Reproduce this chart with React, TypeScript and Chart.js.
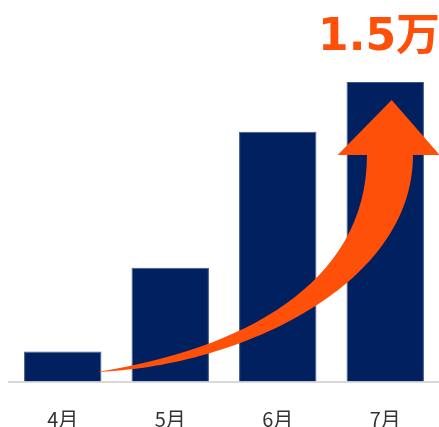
import React, { useEffect, useRef } from "react";
import { Chart, registerables } from "chart.js";

Chart.register(...registerables);

const categories = ["4月", "5月", "6月", "7月"];
const values = [1500, 5700, 12500, 15000];
const headline = "1.5万";

const NAVY = "#002060";
const ORANGE = "#ff500a";

const arrowPlugin = {
  id: "growthArrow",
  afterDatasetsDraw(chart: any) {
    const { ctx, chartArea, scales } = chart;
    const ys = scales.y;
    const cw = (chartArea.right - chartArea.left) / categories.length;
    const X = (k: number) => chartArea.left + k * cw;
    const Y = (v: number) => ys.getPixelForValue(v);
    ctx.save();
    ctx.fillStyle = ORANGE;
    ctx.beginPath();
    ctx.moveTo(X(0.82), Y(480));
    ctx.bezierCurveTo(X(2.149), Y(1580), X(3.33), Y(4830), X(3.33), Y(11340));
    ctx.lineTo(X(3.057), Y(11340));
    ctx.lineTo(X(3.56), Y(14100));
    ctx.lineTo(X(4.007), Y(11340));
    ctx.lineTo(X(3.758), Y(11340));
    ctx.bezierCurveTo(X(3.758), Y(4580), X(2.056), Y(680), X(0.82), Y(480));
    ctx.closePath();
    ctx.fill();
    ctx.restore();
  },
  afterDraw(chart: any) {
    const { ctx, width } = chart;
    ctx.save();
    ctx.fillStyle = ORANGE;
    ctx.font = 'bold 44px "DejaVu Sans", "Noto Sans CJK JP", sans-serif';
    ctx.textAlign = "right";
    ctx.textBaseline = "alphabetic";
    ctx.fillText(headline, width + 1, 50);
    ctx.restore();
  },
};

export default function App() {
  const ref = useRef<HTMLCanvasElement | null>(null);
  useEffect(() => {
    if (!ref.current) return;
    const chart = new Chart(ref.current, {
      type: "bar",
      data: {
        labels: categories,
        datasets: [
          {
            data: values,
            backgroundColor: NAVY,
            borderColor: "#3d5688",
            borderWidth: 1,
            categoryPercentage: 0.72,
            barPercentage: 1,
          },
        ],
      },
      options: {
        animation: false,
        responsive: true,
        maintainAspectRatio: false,
        layout: { padding: { top: 22, left: 9, right: 0, bottom: 0 } },
        plugins: {
          legend: { display: false },
          tooltip: { enabled: false },
        },
        scales: {
          x: {
            grid: { display: false, drawTicks: false },
            border: { display: true, color: "#d9d9d9", width: 2 },
            ticks: {
              color: "#333333",
              padding: 26,
              font: { family: '"Noto Sans CJK JP", sans-serif', size: 20 },
            },
            afterFit: (scale: any) => {
              scale.height = 45.5;
            },
          },
          y: {
            display: false,
            min: 0,
            max: 18000,
          },
        },
      },
      plugins: [arrowPlugin],
    });
    return () => chart.destroy();
  }, []);
  return (
    <div style={{ position: "fixed", left: 0, top: 0, width: 439, height: 427, background: "#fff" }}>
      <canvas ref={ref} />
    </div>
  );
}
